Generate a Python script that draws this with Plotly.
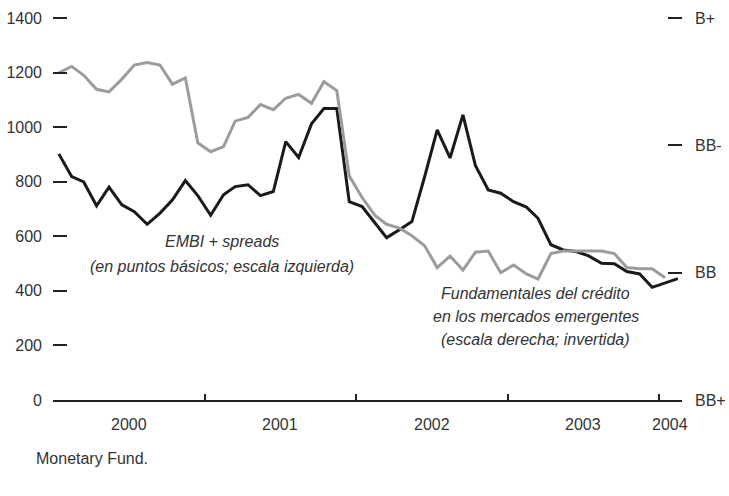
import pandas as pd
import plotly.graph_objects as go

# monthly observations, mid-month, Jan 2000 onwards
months = pd.date_range("2000-01-01", periods=50, freq="MS") + pd.Timedelta(days=14)

# EMBI+ spreads, basis points (left scale)
embi_spreads = [
    902, 819, 799, 712, 780, 715, 690, 644, 685, 734, 804, 749,
    677, 752, 782, 789, 749, 764, 947, 889, 1012, 1068, 1068, 727,
    709, 650, 595, 624, 654, 820, 990, 887, 1045, 860, 770, 758,
    727, 707, 666, 569, 550, 544, 528, 501, 499, 471, 462, 413,
    430, 445,
]

# credit fundamentals, rating notches above BB+ (right scale, inverted)
fundamentals = [
    2.57, 2.62, 2.55, 2.44, 2.42, 2.52, 2.63, 2.65, 2.63, 2.48, 2.53, 2.02,
    1.95, 1.99, 2.19, 2.22, 2.32, 2.28, 2.37, 2.40, 2.33, 2.50, 2.43, 1.76,
    1.59, 1.45, 1.38, 1.35, 1.29, 1.21, 1.04, 1.13, 1.02, 1.16, 1.17, 1.00,
    1.06, 0.99, 0.95, 1.15, 1.17, 1.17, 1.17, 1.17, 1.15, 1.04, 1.03, 1.03,
    0.96,
]

left_ticks = [0, 200, 400, 600, 800, 1000, 1200, 1400]
rating_vals = [0, 1, 2, 3]
rating_text = ["BB+", "BB", "BB-", "B+"]

year_starts = ["2000-01-01", "2001-01-01", "2002-01-01", "2003-01-01", "2004-01-01"]
year_labels = ["2000", "2001", "2002", "2003", "2004"]
year_label_pos = ["2000-07-02", "2001-07-02", "2002-07-02", "2003-07-02", "2004-01-28"]

FONT = "Liberation Sans, Arial, sans-serif"
TXT = "#333333"
# plotly drops inside ticks sitting right on the range edge, so leave some headroom
Y_TOP = 1411

fig = go.Figure()

fig.add_trace(go.Scatter(
    x=months[:len(fundamentals)], y=fundamentals, yaxis="y2",
    mode="lines", line=dict(color="#9c9c9c", width=3),
    name="Fundamentales", showlegend=False
))
fig.add_trace(go.Scatter(
    x=months, y=embi_spreads,
    mode="lines", line=dict(color="#1a1a1a", width=3),
    name="EMBI+", showlegend=False
))

# year labels centred on each (visible) year
for pos, lab in zip(year_label_pos, year_labels):
    fig.add_annotation(x=pos, y=0, xref="x", yref="paper", text=lab,
                       showarrow=False, yshift=-24, yanchor="middle",
                       font=dict(family=FONT, size=16, color=TXT))

# series labels
italic = dict(family=FONT, size=16, color=TXT)
for txt, xd, yv in [
    ("EMBI + spreads", "2001-02-12", 580),
    ("(en puntos básicos; escala izquierda)", "2001-02-12", 491),
    ("Fundamentales del crédito", "2003-03-10", 392),
    ("en los mercados emergentes", "2003-03-10", 305),
    ("(escala derecha; invertida)", "2003-03-10", 220),
]:
    fig.add_annotation(x=xd, y=yv, xref="x", yref="y", text=f"<i>{txt}</i>",
                       showarrow=False, font=italic)

fig.add_annotation(x=0, y=0, xref="paper", yref="paper", text="Monetary Fund.",
                   showarrow=False, xanchor="left", yanchor="middle",
                   xshift=-19, yshift=-58, font=dict(family=FONT, size=16, color=TXT))

fig.update_layout(
    width=729, height=496,
    margin=dict(l=53, r=47, t=15, b=96),
    plot_bgcolor="white", paper_bgcolor="white",
    font=dict(family=FONT, size=16, color=TXT),
    xaxis=dict(
        type="date", range=["2000-01-01", "2004-02-25"],
        tickvals=year_starts, showticklabels=False,
        ticks="inside", ticklen=6, tickwidth=2, tickcolor="#222",
        showline=True, linewidth=2, linecolor="#222",
        showgrid=False, zeroline=False, automargin=False,
    ),
    yaxis=dict(
        range=[0, Y_TOP], tickvals=left_ticks,
        ticks="inside", ticklen=14, tickwidth=2, tickcolor="#222",
        showline=False, showgrid=False, zeroline=False,
        ticklabelstandoff=10, automargin=False,
    ),
    yaxis2=dict(
        range=[0, 3 * Y_TOP / 1400], overlaying="y", side="right",
        tickvals=rating_vals, ticktext=rating_text,
        ticks="inside", ticklen=14, tickwidth=2, tickcolor="#222",
        showline=False, showgrid=False, zeroline=False,
        ticklabelstandoff=12, automargin=False,
    ),
)

# drop the default 8px page margin so the figure sits at the window corner
fig.write_html("out.html", config={"displayModeBar": False},
               post_script="document.body.style.margin='0px';")
